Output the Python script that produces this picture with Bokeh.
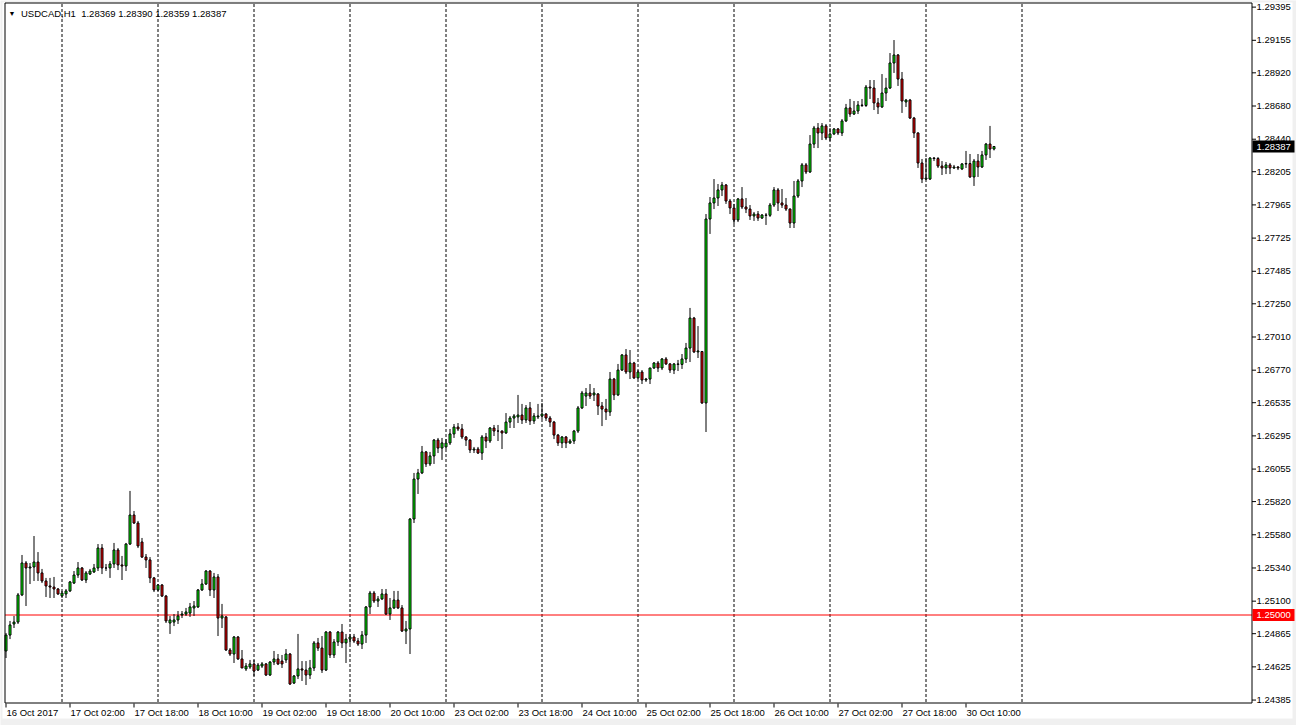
import pandas as pd
from bokeh.plotting import figure
from bokeh.models import Range1d, ColumnDataSource
from bokeh.core.properties import value
from bokeh.embed import file_html
from bokeh.resources import INLINE

symbol = "USDCAD,H1"
start_time = "2017-10-16 10:00"

opens = [
    1.24740, 1.24855, 1.24935, 1.24949, 1.25145, 1.25376, 1.25340, 1.25347, 1.25383, 1.25304,
    1.25246, 1.25210, 1.25202, 1.25188, 1.25138, 1.25152, 1.25174, 1.25231, 1.25289, 1.25340,
    1.25253, 1.25296, 1.25311, 1.25340, 1.25484, 1.25340, 1.25340, 1.25369, 1.25470, 1.25362,
    1.25354, 1.25513, 1.25723, 1.25665, 1.25528, 1.25419, 1.25398, 1.25268, 1.25181, 1.25217,
    1.25137, 1.24942, 1.24949, 1.24964, 1.25000, 1.25007, 1.25014, 1.25051, 1.25058, 1.25181,
    1.25224, 1.25318, 1.25181, 1.25275, 1.24978, 1.24986, 1.24747, 1.24718, 1.24841, 1.24682,
    1.24610, 1.24624, 1.24646, 1.24602, 1.24631, 1.24646, 1.24566, 1.24660, 1.24682, 1.24667,
    1.24675, 1.24718, 1.24508, 1.24559, 1.24610, 1.24602, 1.24566, 1.24617, 1.24798, 1.24761,
    1.24602, 1.24877, 1.24711, 1.24805, 1.24877, 1.24798, 1.24826, 1.24841, 1.24812, 1.24790,
    1.24855, 1.25058, 1.25159, 1.25101, 1.25116, 1.25152, 1.25007, 1.25051, 1.25108, 1.25051,
    1.24884, 1.24899, 1.25694, 1.25983, 1.26027, 1.26179, 1.26092, 1.26150, 1.26265, 1.26207,
    1.26215, 1.26244, 1.26309, 1.26359, 1.26345, 1.26287, 1.26265, 1.26193, 1.26200, 1.26171,
    1.26287, 1.26258, 1.26352, 1.26330, 1.26330, 1.26316, 1.26395, 1.26424, 1.26432, 1.26446,
    1.26410, 1.26497, 1.26403, 1.26432, 1.26439, 1.26453, 1.26424, 1.26395, 1.26301, 1.26244,
    1.26287, 1.26244, 1.26258, 1.26330, 1.26497, 1.26583, 1.26605, 1.26591, 1.26598, 1.26511,
    1.26489, 1.26468, 1.26706, 1.26591, 1.26771, 1.26880, 1.26757, 1.26822, 1.26714, 1.26757,
    1.26699, 1.26706, 1.26786, 1.26822, 1.26786, 1.26851, 1.26815, 1.26771, 1.26815, 1.26812,
    1.26851, 1.26930, 1.27147, 1.26902, 1.26905, 1.26533, 1.27863, 1.27979, 1.28015, 1.28073,
    1.28109, 1.27993, 1.27943, 1.27856, 1.28008, 1.27950, 1.27935, 1.27885, 1.27899, 1.27870,
    1.27892, 1.27890, 1.27964, 1.28073, 1.27979, 1.27964, 1.27935, 1.27834, 1.28029, 1.28138,
    1.28254, 1.28203, 1.28405, 1.28521, 1.28485, 1.28536, 1.28449, 1.28478, 1.28514, 1.28485,
    1.28572, 1.28666, 1.28622, 1.28644, 1.28687, 1.28684, 1.28817, 1.28810, 1.28702, 1.28673,
    1.28774, 1.28810, 1.28991, 1.29049, 1.28875, 1.28709, 1.28723, 1.28593, 1.28485, 1.28268,
    1.28152, 1.28152, 1.28304, 1.28300, 1.28246, 1.28232, 1.28254, 1.28232, 1.28239, 1.28225,
    1.28261, 1.28264, 1.28167, 1.28282, 1.28239, 1.28326, 1.28405, 1.28369,
]

highs = [
    1.24870, 1.24957, 1.24993, 1.25159, 1.25434, 1.25390, 1.25376, 1.25571, 1.25455, 1.25333,
    1.25268, 1.25268, 1.25275, 1.25195, 1.25174, 1.25188, 1.25246, 1.25318, 1.25383, 1.25347,
    1.25318, 1.25333, 1.25369, 1.25513, 1.25513, 1.25369, 1.25390, 1.25521, 1.25484, 1.25427,
    1.25521, 1.25897, 1.25752, 1.25680, 1.25557, 1.25441, 1.25419, 1.25275, 1.25224, 1.25224,
    1.25145, 1.24993, 1.25007, 1.25029, 1.25029, 1.25051, 1.25087, 1.25101, 1.25188, 1.25260,
    1.25325, 1.25325, 1.25304, 1.25296, 1.25080, 1.24993, 1.24761, 1.24848, 1.24848, 1.24747,
    1.24653, 1.24675, 1.24675, 1.24653, 1.24660, 1.24653, 1.24667, 1.24740, 1.24718, 1.24711,
    1.24754, 1.24725, 1.24566, 1.24863, 1.24667, 1.24667, 1.24675, 1.24812, 1.24834, 1.24848,
    1.24884, 1.24884, 1.24826, 1.24884, 1.24935, 1.24863, 1.24863, 1.24863, 1.24834, 1.24884,
    1.25065, 1.25174, 1.25174, 1.25137, 1.25188, 1.25188, 1.25123, 1.25174, 1.25174, 1.25072,
    1.24957, 1.25701, 1.26027, 1.26056, 1.26222, 1.26186, 1.26179, 1.26272, 1.26280, 1.26280,
    1.26272, 1.26345, 1.26381, 1.26388, 1.26381, 1.26294, 1.26272, 1.26215, 1.26215, 1.26301,
    1.26316, 1.26359, 1.26374, 1.26374, 1.26335, 1.26460, 1.26439, 1.26453, 1.26591, 1.26526,
    1.26518, 1.26540, 1.26460, 1.26526, 1.26533, 1.26460, 1.26439, 1.26403, 1.26309, 1.26294,
    1.26294, 1.26272, 1.26338, 1.26511, 1.26620, 1.26641, 1.26670, 1.26641, 1.26605, 1.26540,
    1.26562, 1.26757, 1.26714, 1.26815, 1.26887, 1.26923, 1.26916, 1.26830, 1.26771, 1.26771,
    1.26714, 1.26786, 1.26829, 1.26836, 1.26858, 1.26865, 1.26822, 1.26822, 1.26844, 1.26887,
    1.26967, 1.27220, 1.27155, 1.27089, 1.26909, 1.27899, 1.28022, 1.28152, 1.28116, 1.28131,
    1.28116, 1.28008, 1.27972, 1.28015, 1.28094, 1.28015, 1.27964, 1.27914, 1.27921, 1.27899,
    1.27906, 1.27979, 1.28094, 1.28087, 1.28080, 1.28015, 1.27940, 1.28138, 1.28152, 1.28268,
    1.28268, 1.28470, 1.28536, 1.28557, 1.28557, 1.28550, 1.28521, 1.28521, 1.28521, 1.28586,
    1.28695, 1.28731, 1.28716, 1.28716, 1.28731, 1.28832, 1.28868, 1.28868, 1.28738, 1.28911,
    1.28883, 1.29063, 1.29157, 1.29056, 1.28926, 1.28731, 1.28731, 1.28601, 1.28490, 1.28297,
    1.28304, 1.28311, 1.28311, 1.28311, 1.28282, 1.28275, 1.28268, 1.28254, 1.28246, 1.28268,
    1.28355, 1.28333, 1.28297, 1.28333, 1.28355, 1.28413, 1.28536, 1.28390,
]

lows = [
    1.24689, 1.24826, 1.24906, 1.24935, 1.25137, 1.25065, 1.25224, 1.25246, 1.25246, 1.25231,
    1.25130, 1.25123, 1.25123, 1.25145, 1.25123, 1.25123, 1.25166, 1.25224, 1.25268, 1.25246,
    1.25231, 1.25289, 1.25304, 1.25318, 1.25296, 1.25318, 1.25268, 1.25340, 1.25325, 1.25253,
    1.25318, 1.25506, 1.25658, 1.25484, 1.25412, 1.25340, 1.25231, 1.25166, 1.25174, 1.25130,
    1.24942, 1.24863, 1.24920, 1.24935, 1.24978, 1.24993, 1.24986, 1.24993, 1.25051, 1.25174,
    1.25217, 1.25137, 1.25123, 1.24848, 1.24906, 1.24740, 1.24704, 1.24653, 1.24675, 1.24617,
    1.24595, 1.24610, 1.24559, 1.24595, 1.24617, 1.24559, 1.24559, 1.24638, 1.24638, 1.24617,
    1.24653, 1.24494, 1.24501, 1.24537, 1.24523, 1.24494, 1.24537, 1.24595, 1.24740, 1.24581,
    1.24595, 1.24689, 1.24689, 1.24776, 1.24761, 1.24653, 1.24790, 1.24798, 1.24776, 1.24754,
    1.24798, 1.25007, 1.25087, 1.25058, 1.25108, 1.25000, 1.24964, 1.25043, 1.25043, 1.24877,
    1.24790, 1.24718, 1.25665, 1.25875, 1.26019, 1.26070, 1.26077, 1.26092, 1.26171, 1.26121,
    1.26200, 1.26229, 1.26280, 1.26330, 1.26272, 1.26222, 1.26171, 1.26171, 1.26164, 1.26121,
    1.26207, 1.26244, 1.26294, 1.26258, 1.26200, 1.26309, 1.26352, 1.26352, 1.26388, 1.26381,
    1.26388, 1.26374, 1.26381, 1.26417, 1.26417, 1.26403, 1.26359, 1.26272, 1.26222, 1.26207,
    1.26207, 1.26236, 1.26236, 1.26316, 1.26489, 1.26511, 1.26562, 1.26547, 1.26446, 1.26366,
    1.26410, 1.26439, 1.26554, 1.26583, 1.26764, 1.26742, 1.26706, 1.26706, 1.26706, 1.26670,
    1.26685, 1.26670, 1.26779, 1.26757, 1.26771, 1.26808, 1.26750, 1.26742, 1.26764, 1.26779,
    1.26822, 1.26829, 1.26894, 1.26858, 1.26526, 1.26323, 1.27755, 1.27935, 1.27957, 1.28029,
    1.27972, 1.27899, 1.27827, 1.27841, 1.27935, 1.27906, 1.27856, 1.27849, 1.27849, 1.27863,
    1.27820, 1.27878, 1.27950, 1.27921, 1.27943, 1.27921, 1.27798, 1.27798, 1.28015, 1.28094,
    1.28188, 1.28196, 1.28376, 1.28376, 1.28434, 1.28434, 1.28427, 1.28470, 1.28470, 1.28463,
    1.28564, 1.28601, 1.28615, 1.28622, 1.28673, 1.28673, 1.28731, 1.28651, 1.28622, 1.28666,
    1.28716, 1.28803, 1.28919, 1.28825, 1.28630, 1.28673, 1.28586, 1.28449, 1.28232, 1.28123,
    1.28145, 1.28145, 1.28282, 1.28232, 1.28181, 1.28188, 1.28188, 1.28225, 1.28217, 1.28217,
    1.28232, 1.28160, 1.28102, 1.28167, 1.28232, 1.28290, 1.28304, 1.28359,
]

closes = [
    1.24855, 1.24928, 1.24949, 1.25145, 1.25376, 1.25340, 1.25347, 1.25383, 1.25304, 1.25246,
    1.25210, 1.25202, 1.25188, 1.25152, 1.25159, 1.25174, 1.25239, 1.25289, 1.25340, 1.25253,
    1.25304, 1.25318, 1.25340, 1.25484, 1.25340, 1.25340, 1.25369, 1.25470, 1.25362, 1.25354,
    1.25513, 1.25723, 1.25665, 1.25499, 1.25419, 1.25398, 1.25268, 1.25181, 1.25217, 1.25137,
    1.24957, 1.24964, 1.24964, 1.24993, 1.25007, 1.25022, 1.25058, 1.25065, 1.25181, 1.25224,
    1.25318, 1.25181, 1.25275, 1.24978, 1.24993, 1.24747, 1.24718, 1.24841, 1.24682, 1.24617,
    1.24631, 1.24646, 1.24595, 1.24638, 1.24646, 1.24566, 1.24660, 1.24682, 1.24646, 1.24646,
    1.24718, 1.24501, 1.24559, 1.24610, 1.24602, 1.24566, 1.24617, 1.24798, 1.24761, 1.24602,
    1.24877, 1.24711, 1.24805, 1.24877, 1.24798, 1.24826, 1.24841, 1.24812, 1.24790, 1.24855,
    1.25058, 1.25159, 1.25101, 1.25116, 1.25152, 1.25007, 1.25051, 1.25108, 1.25051, 1.24884,
    1.24899, 1.25694, 1.25983, 1.26027, 1.26179, 1.26092, 1.26150, 1.26265, 1.26207, 1.26244,
    1.26244, 1.26309, 1.26359, 1.26345, 1.26287, 1.26265, 1.26193, 1.26200, 1.26171, 1.26287,
    1.26258, 1.26352, 1.26330, 1.26330, 1.26316, 1.26395, 1.26424, 1.26439, 1.26446, 1.26410,
    1.26497, 1.26403, 1.26439, 1.26439, 1.26453, 1.26424, 1.26395, 1.26301, 1.26244, 1.26287,
    1.26244, 1.26258, 1.26330, 1.26497, 1.26605, 1.26605, 1.26583, 1.26605, 1.26511, 1.26489,
    1.26468, 1.26706, 1.26591, 1.26771, 1.26880, 1.26757, 1.26822, 1.26714, 1.26757, 1.26699,
    1.26706, 1.26786, 1.26822, 1.26786, 1.26851, 1.26815, 1.26771, 1.26815, 1.26812, 1.26851,
    1.26930, 1.27147, 1.26902, 1.26909, 1.26533, 1.27863, 1.27979, 1.28015, 1.28073, 1.28109,
    1.27993, 1.27943, 1.27856, 1.28008, 1.27950, 1.27935, 1.27885, 1.27899, 1.27870, 1.27892,
    1.27890, 1.27964, 1.28073, 1.27979, 1.27964, 1.27935, 1.27834, 1.28029, 1.28138, 1.28254,
    1.28203, 1.28405, 1.28521, 1.28485, 1.28536, 1.28449, 1.28478, 1.28514, 1.28485, 1.28572,
    1.28666, 1.28622, 1.28644, 1.28687, 1.28684, 1.28817, 1.28810, 1.28702, 1.28673, 1.28774,
    1.28810, 1.28991, 1.29049, 1.28875, 1.28716, 1.28723, 1.28593, 1.28485, 1.28268, 1.28152,
    1.28160, 1.28304, 1.28300, 1.28246, 1.28232, 1.28254, 1.28232, 1.28239, 1.28232, 1.28261,
    1.28264, 1.28167, 1.28282, 1.28239, 1.28326, 1.28405, 1.28369, 1.28387,
]

price_ticks = [1.29395, 1.29155, 1.28920, 1.28680, 1.28440, 1.28205, 1.27965, 1.27725,
               1.27485, 1.27250, 1.27010, 1.26770, 1.26535, 1.26295, 1.26055, 1.25820,
               1.25580, 1.25340, 1.25100, 1.24865, 1.24625, 1.24385]
level_price = 1.25000
date_label_step = 16

# ---------------- layout / style (pixels of the 1296x725 window) ----------------
W, H = 1296, 725
PX_PER_BAR = 4.0          # horizontal spacing of the hourly bars
FIRST_BAR_PX = 5.5        # centre of the first bar
PRICE_PER_PX = 0.0000723  # vertical price scale
LEVEL_ROW = 614.5         # pixel row of the level line
CHART_L, CHART_R, CHART_T, CHART_B = 4.5, 1251.5, 2.5, 702.5
FONT = value("Liberation Sans")
FSIZE = value("9.5px")
UP, DOWN = "#00ff00", "#ff0000"

X0 = -FIRST_BAR_PX / PX_PER_BAR


def xd(sx):
    return X0 + sx / PX_PER_BAR


def yd(sy):
    return level_price + (LEVEL_ROW - sy) * PRICE_PER_PX


# ---------------- time index ----------------
N = len(closes)
all_times = pd.date_range(start_time, periods=24 * 30, freq="h")
all_times = all_times[all_times.dayofweek < 5]
bar_times = all_times[:N]
idx = list(range(N))

last_day = bar_times[-1].normalize() + pd.Timedelta(days=1)
day_starts = [i for i, t in enumerate(all_times) if t.hour == 0 and t <= last_day]

label_pos = list(range(0, N, date_label_step))
label_txt = []
for k, i in enumerate(label_pos):
    fmt = "%d %b %Y" if k == 0 else "%d %b %H:%M"
    label_txt.append(bar_times[i].strftime(fmt))

src = ColumnDataSource(dict(
    x=idx, h=highs, l=lows,
    top=[max(o, c) for o, c in zip(opens, closes)],
    bottom=[min(o, c) for o, c in zip(opens, closes)],
    color=[UP if c >= o else DOWN for o, c in zip(opens, closes)],
))

p = figure(width=W, height=H, output_backend="svg", toolbar_location=None,
           x_range=Range1d(xd(0), xd(W)), y_range=Range1d(yd(H), yd(0)),
           x_axis_location=None, y_axis_location=None,
           min_border=0, min_border_left=0, min_border_right=0,
           min_border_top=0, min_border_bottom=0)
p.outline_line_color = None
p.background_fill_color = "#f0f0f0"
p.border_fill_color = "#f0f0f0"
p.grid.visible = False

# window area
p.quad(left=xd(2), right=xd(1292), top=yd(2), bottom=yd(718),
       fill_color="white", line_color=None)

# day separators
p.segment(x0=day_starts, x1=day_starts,
          y0=[yd(CHART_T + 1)] * len(day_starts), y1=[yd(CHART_B - 0.5)] * len(day_starts),
          line_color="black", line_width=1, line_dash="3 2")

# level line
p.segment(x0=[xd(CHART_L)], x1=[xd(CHART_R)], y0=[level_price], y1=[level_price],
          line_color="#ff0000", line_width=1)

# candles
p.segment(x0="x", y0="l", x1="x", y1="h", source=src, line_color="black", line_width=1)
p.vbar(x="x", width=2 / PX_PER_BAR, top="top", bottom="bottom", source=src,
       fill_color="color", line_color="black", line_width=1)

# chart frame
p.quad(left=xd(CHART_L), right=xd(CHART_R), top=yd(CHART_T), bottom=yd(CHART_B),
       fill_color=None, line_color="black", line_width=1)

# right price scale
nt = len(price_ticks)
p.segment(x0=[xd(CHART_R)] * nt, x1=[xd(CHART_R + 4)] * nt, y0=price_ticks, y1=price_ticks,
          line_color="black", line_width=1)
p.text(x=[xd(CHART_R + 4.5)] * nt, y=price_ticks, text=["%.5f" % t for t in price_ticks],
       text_font=FONT, text_font_size=FSIZE, text_align="left",
       text_baseline="middle", text_color="black")

# price boxes (current price, level)
box_prices = [closes[-1], level_price]
box_colors = ["black", "#ff0000"]
p.quad(left=[xd(CHART_R + 0.5)] * 2, right=[xd(CHART_R + 42.5)] * 2,
       top=[v + 6 * PRICE_PER_PX for v in box_prices],
       bottom=[v - 6 * PRICE_PER_PX for v in box_prices],
       fill_color=box_colors, line_color=None)
p.text(x=[xd(CHART_R + 4.5)] * 2, y=box_prices, text=["%.5f" % v for v in box_prices],
       text_font=FONT, text_font_size=FSIZE, text_align="left",
       text_baseline="middle", text_color="white")

# time scale
nl = len(label_pos)
p.segment(x0=label_pos, x1=label_pos, y0=[yd(CHART_B + 0.5)] * nl, y1=[yd(CHART_B + 4.5)] * nl,
          line_color="black", line_width=1)
p.text(x=[i + 0.5 / PX_PER_BAR for i in label_pos], y=[yd(712)] * nl, text=label_txt,
       text_font=FONT, text_font_size=FSIZE, text_align="left",
       text_baseline="middle", text_color="black")

# header
header = "%s\u00a0\u00a0%.5f %.5f %.5f %.5f" % (symbol, opens[-1], highs[-1], lows[-1], closes[-1])
p.text(x=[xd(8)], y=[yd(13)], text=["\u25bc"], text_font=FONT, text_font_size=value("7px"),
       text_align="left", text_baseline="middle", text_color="black")
p.text(x=[xd(20.5)], y=[yd(13)], text=[header], text_font=FONT, text_font_size=FSIZE,
       text_align="left", text_baseline="middle", text_color="black")

open("out.html", "w").write(file_html(p, INLINE, title=symbol))
